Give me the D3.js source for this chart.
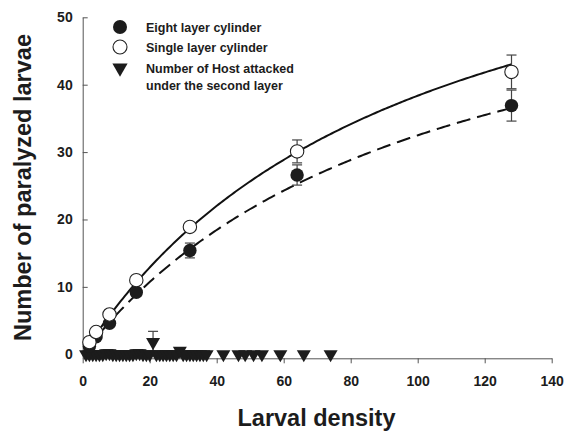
<!DOCTYPE html>
<html>
<head>
<meta charset="utf-8">
<script src="https://cdn.jsdelivr.net/npm/d3@7/dist/d3.min.js"></script>
<style>
  html, body { margin: 0; padding: 0; background: #fff; }
  svg { display: block; font-family: "Liberation Sans", Arial, sans-serif; }
</style>
</head>
<body>
<svg id="chart" width="570" height="431"></svg>
<script>
// Larval density levels offered to the parasitoid
const densities = [2, 4, 8, 16, 32, 64, 128];

// Eight layer cylinder: mean paralyzed larvae and standard error
const eightMean = [1.2, 2.6, 4.6, 9.2, 15.4, 26.6, 36.9];
const eightSE   = [0.3, 0.4, 0.5, 0.6, 1.1, 1.5, 2.3];

// Single layer cylinder: mean paralyzed larvae and standard error
const singleMean = [1.8, 3.3, 5.9, 11.0, 18.9, 30.1, 41.9];
const singleSE   = [0.3, 0.4, 0.5, 0.5, 0.6, 1.7, 2.5];

// Hosts attacked under the second layer
const hostX  = [1, 2, 3, 4, 5, 6, 7, 8, 9, 10, 11, 12, 13, 14, 15, 16, 17, 18, 19, 20,
                21, 22, 23, 24, 25, 26, 27, 28, 29, 30, 31, 32, 33, 34, 35, 36, 37,
                42, 46.5, 48.5, 51, 53.5, 59, 66, 74];
const hostY  = [0, 0, 0, 0, 0, 0, 0.15, 0.15, 0, 0, 0, 0, 0, 0, 0, 0.15, 0.15, 0, 0, 0,
                1.8, 0, 0, 0, 0, 0, 0, 0, 0.5, 0, 0, 0, 0, 0, 0, 0,
                0, 0, 0, 0, 0, 0, 0, 0, 0];
const hostSE = [0, 0, 0, 0, 0, 0, 0.5, 0.5, 0, 0, 0, 0, 0, 0, 0, 0.5, 0.5, 0, 0, 0,
                1.6, 0, 0, 0, 0, 0, 0, 0, 0.4, 0, 0, 0, 0, 0, 0, 0,
                0, 0, 0, 0, 0, 0, 0, 0, 0];

// Fitted saturating response y = a*x / (1 + b*x)
const fitSingle = { a: 0.775, b: 0.0102 };
const fitEight  = { a: 0.640, b: 0.0097 };

const xTicks = [0, 20, 40, 60, 80, 100, 120, 140];
const yTicks = [0, 10, 20, 30, 40, 50];

const legendLabels = [
  ["Eight layer cylinder"],
  ["Single layer cylinder"],
  ["Number of Host attacked", "under the second layer"]
];

const ink = "#1c1c1c";
const svg = d3.select("#chart");

const x = d3.scaleLinear().domain([0, 140]).range([82.7, 551.7]);
const y = d3.scaleLinear().domain([-0.6, 50]).range([358.3, 17.3]);

// Axes
const xAxis = svg.append("g")
  .attr("transform", `translate(0,${y.range()[0]})`)
  .call(d3.axisBottom(x).tickValues(xTicks).tickSize(5).tickPadding(13).tickSizeOuter(0));
const yAxis = svg.append("g")
  .attr("transform", `translate(${x.range()[0]},0)`)
  .call(d3.axisLeft(y).tickValues(yTicks).tickSize(-5).tickPadding(10).tickSizeOuter(0));

[xAxis, yAxis].forEach(g => {
  g.select(".domain").attr("stroke", "#555").attr("stroke-width", 1);
  g.selectAll(".tick line").attr("stroke", "#555").attr("stroke-width", 1);
  g.selectAll(".tick text")
    .attr("fill", ink)
    .style("font-size", "14px")
    .style("font-weight", "bold")
    .style("font-family", "'Liberation Sans', Arial, sans-serif");
});

// Axis titles
svg.append("text")
  .attr("x", 316.5).attr("y", 426)
  .attr("text-anchor", "middle")
  .attr("fill", ink)
  .style("font-size", "23.5px").style("font-weight", "bold")
  .text("Larval density");

svg.append("text")
  .attr("transform", "translate(30.5,187.5) rotate(-90)")
  .attr("text-anchor", "middle")
  .attr("fill", ink)
  .style("font-size", "23.5px").style("font-weight", "bold")
  .text("Number of paralyzed larvae");

// Fitted curves
function curvePoints(fit, x0, x1) {
  const n = 200;
  return d3.range(n + 1).map(i => {
    const xv = x0 + (x1 - x0) * i / n;
    return [xv, fit.a * xv / (1 + fit.b * xv)];
  });
}
const line = d3.line().x(d => x(d[0])).y(d => y(d[1])).curve(d3.curveLinear);

svg.append("path")
  .attr("d", line(curvePoints(fitEight, 1.2, 128)))
  .attr("fill", "none").attr("stroke", "#111").attr("stroke-width", 2)
  .attr("stroke-dasharray", "14,7");

svg.append("path")
  .attr("d", line(curvePoints(fitSingle, 0.5, 128)))
  .attr("fill", "none").attr("stroke", "#111").attr("stroke-width", 2);

// Error bars
function errorBars(xs, ms, ses) {
  const g = svg.append("g").attr("stroke", "#444").attr("stroke-width", 1.2);
  xs.forEach((xv, i) => {
    if (!ses[i]) return;
    const cx = x(xv), top = y(ms[i] + ses[i]), bot = y(ms[i] - ses[i]);
    g.append("line").attr("x1", cx).attr("x2", cx).attr("y1", top).attr("y2", bot);
    g.append("line").attr("x1", cx - 5).attr("x2", cx + 5).attr("y1", top).attr("y2", top);
    g.append("line").attr("x1", cx - 5).attr("x2", cx + 5).attr("y1", bot).attr("y2", bot);
  });
}
errorBars(hostX, hostY, hostSE);
errorBars(densities, eightMean, eightSE);
errorBars(densities, singleMean, singleSE);

// Host attacked markers (down-pointing triangles)
const tri = d3.symbol().type(d3.symbolTriangle).size(85);
svg.append("g").selectAll("path")
  .data(hostX.map((xv, i) => [xv, hostY[i]]))
  .join("path")
  .attr("d", tri)
  .attr("transform", d => `translate(${x(d[0])},${y(d[1])}) rotate(180)`)
  .attr("fill", ink);

// Eight layer markers
svg.append("g").selectAll("circle")
  .data(densities.map((xv, i) => [xv, eightMean[i]]))
  .join("circle")
  .attr("cx", d => x(d[0])).attr("cy", d => y(d[1])).attr("r", 6.7)
  .attr("fill", ink);

// Single layer markers
svg.append("g").selectAll("circle")
  .data(densities.map((xv, i) => [xv, singleMean[i]]))
  .join("circle")
  .attr("cx", d => x(d[0])).attr("cy", d => y(d[1])).attr("r", 6.7)
  .attr("fill", "#fff").attr("stroke", "#222").attr("stroke-width", 1.1);

// Legend
const legend = svg.append("g");
const legendRows = [27, 47, 68];
legend.append("circle").attr("cx", 120).attr("cy", legendRows[0]).attr("r", 7).attr("fill", ink);
legend.append("circle").attr("cx", 120).attr("cy", legendRows[1]).attr("r", 7)
  .attr("fill", "#fff").attr("stroke", "#222").attr("stroke-width", 1.1);
legend.append("path").attr("d", d3.symbol().type(d3.symbolTriangle).size(100))
  .attr("transform", `translate(120,${legendRows[2]}) rotate(180)`).attr("fill", ink);

legendLabels.forEach((lines, i) => {
  lines.forEach((t, j) => {
    legend.append("text")
      .attr("x", 146).attr("y", legendRows[i] + 5 + j * 16.5)
      .attr("fill", ink)
      .style("font-size", "12.5px").style("font-weight", "bold")
      .text(t);
  });
});
</script>
</body>
</html>
